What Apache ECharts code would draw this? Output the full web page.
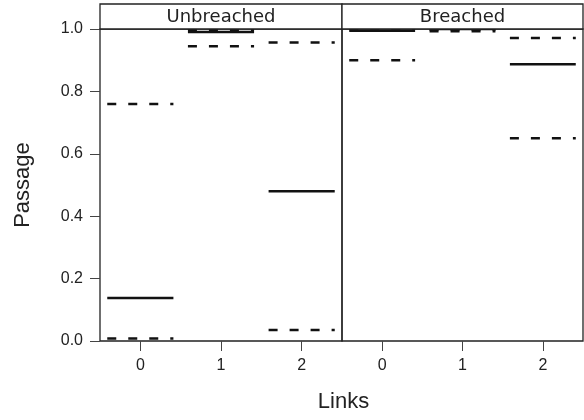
<!DOCTYPE html>
<html>
<head>
<meta charset="utf-8">
<script src="https://cdn.jsdelivr.net/npm/echarts@6/dist/echarts.min.js"></script>
<style>html,body{margin:0;padding:0;background:#fff}#c{width:584px;height:420px}</style>
</head>
<body>
<div id="c"></div>
<script>
const categories = ['0', '1', '2'];
const panels = ['Unbreached', 'Breached'];
const yTicks = [0, 0.2, 0.4, 0.6, 0.8, 1.0];
const unbreachedEst = [0.138, 0.99, 0.48];
const unbreachedLower = [0.008, 0.945, 0.035];
const unbreachedUpper = [0.76, 0.997, 0.957];
const breachedEst = [0.994, 1.0, 0.887];
const breachedLower = [0.90, 0.993, 0.65];
const breachedUpper = [1.0, 0.998, 0.971];

function buildData(est, lower, upper) {
  const d = [];
  categories.forEach((c, i) => {
    d.push([i, lower[i], 1]);
    d.push([i, upper[i], 1]);
    d.push([i, est[i], 0]);
  });
  return d;
}

function renderSeg(params, api) {
  const p = api.coord([api.value(0), api.value(1)]);
  const band = api.size([1, 0])[0];
  const half = band * 0.41;
  const dashed = api.value(2) === 1;
  return {
    type: 'line',
    shape: { x1: p[0] - half, y1: p[1], x2: p[0] + half, y2: p[1] },
    style: {
      stroke: '#111',
      lineWidth: 2.5,
      lineDash: dashed ? [9, 12] : null
    }
  };
}

const L = 100, R = 583, TOP = 29, BOT = 341, STRIP_TOP = 4;
const MID = 342;

const chart = echarts.init(document.getElementById('c'), null, { renderer: 'canvas' });

const gridBase = { top: TOP, height: BOT - TOP, show: true, borderColor: '#222', borderWidth: 1.3, backgroundColor: 'transparent' };

const xAxisBase = {
  type: 'category', data: categories, boundaryGap: true,
  axisLine: { show: false },
  axisTick: { show: true, alignWithLabel: true, length: 10, lineStyle: { color: '#444', width: 1 } },
  axisLabel: { fontFamily: 'Liberation Sans', fontSize: 16, color: '#222', margin: 17 },
  splitLine: { show: false }
};

const option = {
  animation: false,
  backgroundColor: '#fff',
  grid: [
    Object.assign({ left: L, width: MID - L }, gridBase),
    Object.assign({ left: MID, width: R - MID }, gridBase)
  ],
  xAxis: [
    Object.assign({ gridIndex: 0 }, xAxisBase),
    Object.assign({ gridIndex: 1 }, xAxisBase)
  ],
  yAxis: [
    {
      gridIndex: 0, type: 'value', min: 0, max: 1, interval: 0.2,
      name: 'Passage', nameLocation: 'middle', nameGap: 66,
      nameTextStyle: { fontFamily: 'Liberation Sans', fontSize: 22, color: '#222' },
      axisLine: { show: false },
      axisTick: { show: true, length: 10, lineStyle: { color: '#444', width: 1 } },
      axisLabel: { fontFamily: 'Liberation Sans', fontSize: 16, color: '#222', margin: 17,
        formatter: v => v.toFixed(1) },
      splitLine: { show: false }
    },
    {
      gridIndex: 1, type: 'value', min: 0, max: 1, interval: 0.2,
      axisLine: { show: false }, axisTick: { show: false }, axisLabel: { show: false },
      splitLine: { show: false }
    }
  ],
  series: [
    { type: 'custom', xAxisIndex: 0, yAxisIndex: 0, clip: false, renderItem: renderSeg,
      encode: { x: 0, y: 1 }, data: buildData(unbreachedEst, unbreachedLower, unbreachedUpper), z: 2 },
    { type: 'custom', xAxisIndex: 1, yAxisIndex: 1, clip: false, renderItem: renderSeg,
      encode: { x: 0, y: 1 }, data: buildData(breachedEst, breachedLower, breachedUpper), z: 2 }
  ],
  graphic: [
    { type: 'rect', shape: { x: L, y: STRIP_TOP, width: MID - L, height: TOP - STRIP_TOP },
      style: { fill: '#fff', stroke: '#222', lineWidth: 1.3 }, z: 10 },
    { type: 'rect', shape: { x: MID, y: STRIP_TOP, width: R - MID, height: TOP - STRIP_TOP },
      style: { fill: '#fff', stroke: '#222', lineWidth: 1.3 }, z: 10 },
    { type: 'text', x: (L + MID) / 2, y: (STRIP_TOP + TOP) / 2 + 0.5, z: 11,
      style: { text: panels[0], fontFamily: 'DejaVu Sans', fontSize: 18, fill: '#222', textAlign: 'center', textVerticalAlign: 'middle' } },
    { type: 'text', x: (MID + R) / 2, y: (STRIP_TOP + TOP) / 2 + 0.5, z: 11,
      style: { text: panels[1], fontFamily: 'DejaVu Sans', fontSize: 18, fill: '#222', textAlign: 'center', textVerticalAlign: 'middle' } },
    { type: 'text', x: (L + R) / 2 + 2, y: 402, z: 11,
      style: { text: 'Links', fontFamily: 'Liberation Sans', fontSize: 22, fill: '#222', textAlign: 'center', textVerticalAlign: 'middle' } }
  ]
};
chart.setOption(option);
</script>
</body>
</html>
